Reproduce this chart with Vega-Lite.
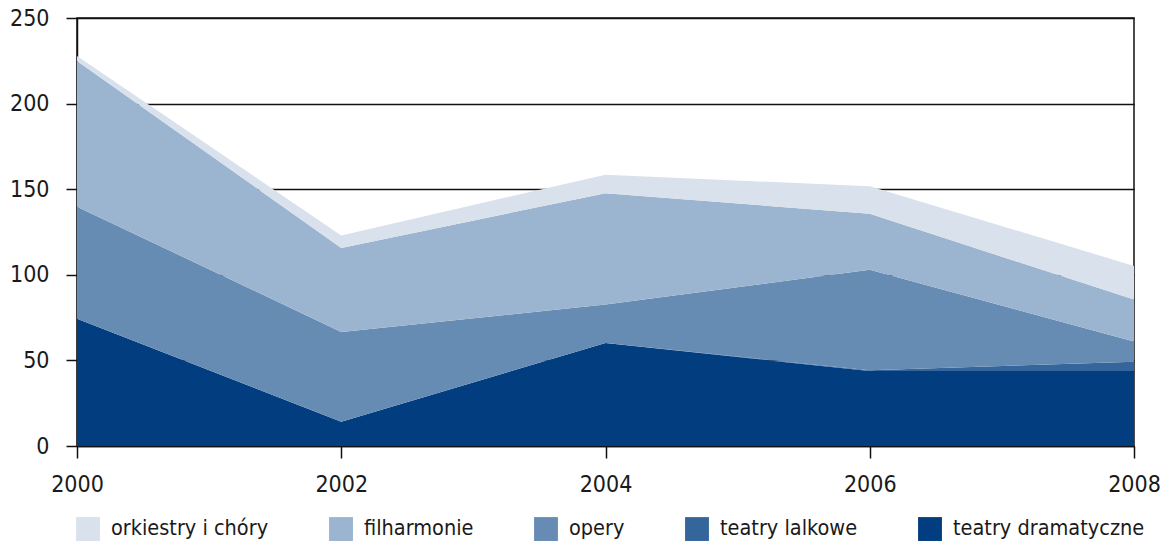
{
  "$schema": "https://vega.github.io/schema/vega-lite/v6.json",
  "width": 1057,
  "height": 428,
  "autosize": {"type": "none"},
  "padding": {"left": 77, "top": 18, "right": 27, "bottom": 96},
  "background": "white",
  "config": {
    "view": {"stroke": "#111", "strokeWidth": 1.5},
    "font": "DejaVu Sans Condensed, Open Sans",
    "axis": {
      "labelFont": "DejaVu Sans Condensed, Open Sans",
      "labelFontSize": 23,
      "labelColor": "#1a1a1a",
      "domainColor": "#111",
      "domainWidth": 1.5,
      "tickColor": "#111",
      "tickWidth": 1.5,
      "gridColor": "#111",
      "gridWidth": 1.5,
      "gridOpacity": 1,
      "title": null,
      "zindex": 1
    },
    "legend": {
      "labelFont": "DejaVu Sans Condensed, Open Sans",
      "labelFontSize": 21.5,
      "labelLimit": 0,
      "labelColor": "#1a1a1a"
    }
  },
  "data": {
    "values": [
      {"rok": 2000, "typ": "teatry dramatyczne", "k": 1, "wartosc": 74.4},
      {"rok": 2002, "typ": "teatry dramatyczne", "k": 1, "wartosc": 14.2},
      {"rok": 2004, "typ": "teatry dramatyczne", "k": 1, "wartosc": 60.1},
      {"rok": 2006, "typ": "teatry dramatyczne", "k": 1, "wartosc": 43.8},
      {"rok": 2008, "typ": "teatry dramatyczne", "k": 1, "wartosc": 43.8},
      {"rok": 2000, "typ": "teatry lalkowe", "k": 2, "wartosc": 0},
      {"rok": 2002, "typ": "teatry lalkowe", "k": 2, "wartosc": 0},
      {"rok": 2004, "typ": "teatry lalkowe", "k": 2, "wartosc": 0},
      {"rok": 2006, "typ": "teatry lalkowe", "k": 2, "wartosc": 0.5},
      {"rok": 2008, "typ": "teatry lalkowe", "k": 2, "wartosc": 5.4},
      {"rok": 2000, "typ": "opery", "k": 3, "wartosc": 65.4},
      {"rok": 2002, "typ": "opery", "k": 3, "wartosc": 52.4},
      {"rok": 2004, "typ": "opery", "k": 3, "wartosc": 22.5},
      {"rok": 2006, "typ": "opery", "k": 3, "wartosc": 58.6},
      {"rok": 2008, "typ": "opery", "k": 3, "wartosc": 11.8},
      {"rok": 2000, "typ": "filharmonie", "k": 4, "wartosc": 85.1},
      {"rok": 2002, "typ": "filharmonie", "k": 4, "wartosc": 49.1},
      {"rok": 2004, "typ": "filharmonie", "k": 4, "wartosc": 65.1},
      {"rok": 2006, "typ": "filharmonie", "k": 4, "wartosc": 32.7},
      {"rok": 2008, "typ": "filharmonie", "k": 4, "wartosc": 24.5},
      {"rok": 2000, "typ": "orkiestry i chóry", "k": 5, "wartosc": 2.9},
      {"rok": 2002, "typ": "orkiestry i chóry", "k": 5, "wartosc": 7.3},
      {"rok": 2004, "typ": "orkiestry i chóry", "k": 5, "wartosc": 10.8},
      {"rok": 2006, "typ": "orkiestry i chóry", "k": 5, "wartosc": 16.1},
      {"rok": 2008, "typ": "orkiestry i chóry", "k": 5, "wartosc": 19.7}
    ]
  },
  "mark": {"type": "area", "opacity": 1},
  "encoding": {
    "x": {
      "field": "rok",
      "type": "quantitative",
      "scale": {"domain": [2000, 2008], "nice": false, "zero": false},
      "axis": {
        "values": [2000, 2002, 2004, 2006, 2008],
        "format": "d",
        "grid": false,
        "tickSize": 12,
        "labelPadding": 15,
        "labelFlush": false,
        "labelOverlap": false
      }
    },
    "y": {
      "field": "wartosc",
      "type": "quantitative",
      "stack": "zero",
      "scale": {"domain": [0, 250], "nice": false},
      "axis": {
        "values": [0, 50, 100, 150, 200, 250],
        "tickSize": 11,
        "labelPadding": 17,
        "domain": true
      }
    },
    "color": {
      "field": "typ",
      "type": "nominal",
      "scale": {
        "domain": ["orkiestry i chóry", "filharmonie", "opery", "teatry lalkowe", "teatry dramatyczne"],
        "range": ["#d9e1ec", "#9bb4cf", "#678cb4", "#34669c", "#023d80"]
      },
      "legend": {
        "title": null,
        "orient": "none",
        "direction": "horizontal",
        "legendX": -1,
        "legendY": 499,
        "symbolType": "square",
        "symbolSize": 570,
        "symbolStrokeWidth": 0,
        "symbolOpacity": 1,
        "labelOffset": 11,
        "columnPadding": 60
      }
    },
    "order": {"field": "k", "type": "quantitative", "sort": "ascending"}
  }
}
